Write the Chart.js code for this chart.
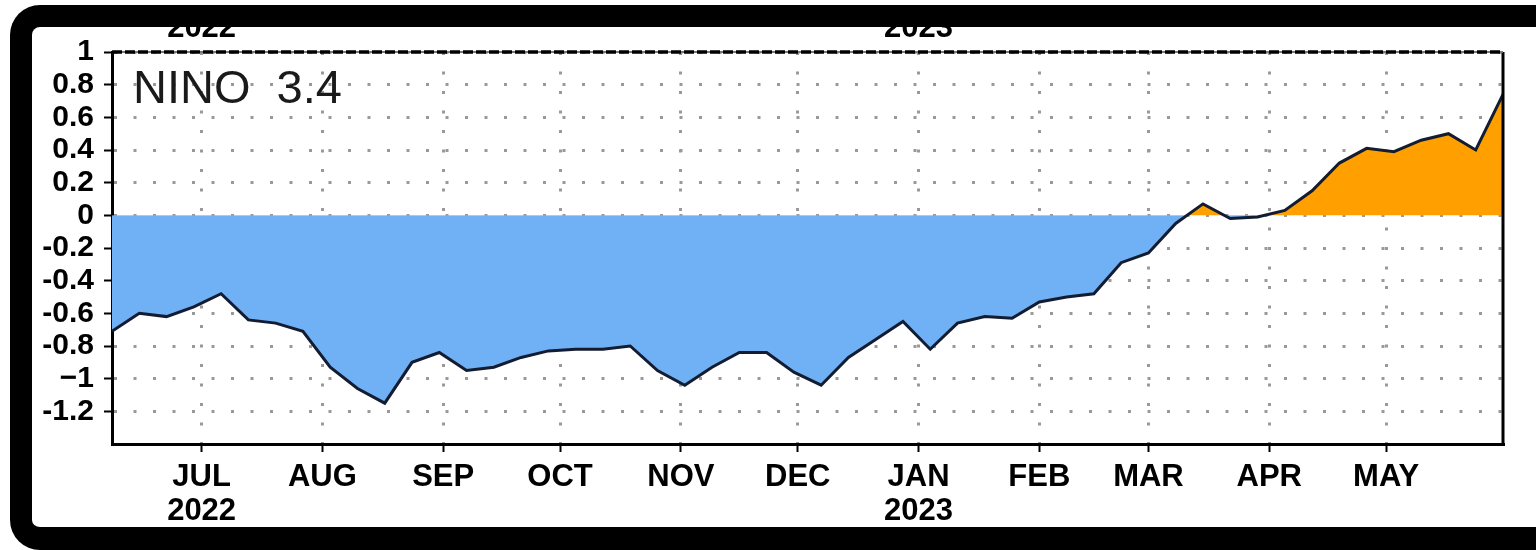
<!DOCTYPE html>
<html>
<head>
<meta charset="utf-8">
<script src="https://cdn.jsdelivr.net/npm/chart.js@4/dist/chart.umd.min.js"></script>
<style>
  html, body { margin: 0; padding: 0; background: #fff; }
  body { width: 1536px; height: 550px; overflow: hidden; position: relative; }
  .frame {
    position: absolute; left: 10px; top: 5px;
    width: 1526px; height: 545px; box-sizing: border-box;
    border-left: 22px solid #000; border-top: 22px solid #000; border-bottom: 23px solid #000;
    border-top-left-radius: 30px; border-bottom-left-radius: 30px;
    overflow: hidden;
  }
  #nino { display: block; }
</style>
</head>
<body>
<div class="frame"><canvas id="nino" width="1504" height="500"></canvas></div>
<script>
// weekly Nino 3.4 SST anomaly (degC)
var weeks = [
  '2022-06-08', '2022-06-15', '2022-06-22', '2022-06-29',
  '2022-07-06', '2022-07-13', '2022-07-20', '2022-07-27',
  '2022-08-03', '2022-08-10', '2022-08-17', '2022-08-24', '2022-08-31',
  '2022-09-07', '2022-09-14', '2022-09-21', '2022-09-28',
  '2022-10-05', '2022-10-12', '2022-10-19', '2022-10-26',
  '2022-11-02', '2022-11-09', '2022-11-16', '2022-11-23', '2022-11-30',
  '2022-12-07', '2022-12-14', '2022-12-21', '2022-12-28',
  '2023-01-04', '2023-01-11', '2023-01-18', '2023-01-25',
  '2023-02-01', '2023-02-08', '2023-02-15', '2023-02-22',
  '2023-03-01', '2023-03-08', '2023-03-15', '2023-03-22', '2023-03-29',
  '2023-04-05', '2023-04-12', '2023-04-19', '2023-04-26',
  '2023-05-03', '2023-05-10', '2023-05-17', '2023-05-24', '2023-05-31'
];
var anomaly = [
  -0.71, -0.60, -0.62, -0.56,
  -0.48, -0.64, -0.66, -0.71,
  -0.93, -1.06, -1.15, -0.90, -0.84,
  -0.95, -0.93, -0.87, -0.83,
  -0.82, -0.82, -0.80, -0.95,
  -1.04, -0.93, -0.84, -0.84, -0.96,
  -1.04, -0.87, -0.76, -0.65,
  -0.82, -0.66, -0.62, -0.63,
  -0.53, -0.50, -0.48, -0.29,
  -0.23, -0.05, 0.07, -0.02, -0.01,
  0.03, 0.15, 0.32, 0.41,
  0.39, 0.46, 0.50, 0.40, 0.74
];
var monthStarts = ['2022-07-01', '2022-08-01', '2022-09-01', '2022-10-01', '2022-11-01', '2022-12-01',
                   '2023-01-01', '2023-02-01', '2023-03-01', '2023-04-01', '2023-05-01'];
var monthLabels = [['JUL', '2022'], 'AUG', 'SEP', 'OCT', 'NOV', 'DEC', ['JAN', '2023'], 'FEB', 'MAR', 'APR', 'MAY'];
var yTicks = [1, 0.8, 0.6, 0.4, 0.2, 0, -0.2, -0.4, -0.6, -0.8, -1, -1.2];
var yLabels = ['1', '0.8', '0.6', '0.4', '0.2', '0', '-0.2', '-0.4', '-0.6', '-0.8', '\u22121', '-1.2'];
var topYears = [['2022', '2022-07-01'], ['2023', '2023-01-01']];

var t0 = Date.parse(weeks[0]);
function day(s) { return (Date.parse(s) - t0) / 864e5; }

var points = weeks.map(function (w, i) { return { x: day(w), y: anomaly[i] }; });
var sans = '"Liberation Sans", Arial, sans-serif';

var decor = {
  id: 'decor',
  afterDraw: function (chart) {
    var c = chart.ctx, a = chart.chartArea, xs = chart.scales.x;
    c.save();
    // right border
    c.strokeStyle = '#000'; c.lineWidth = 3;
    c.beginPath(); c.moveTo(a.right, a.top); c.lineTo(a.right, a.bottom + 1.5); c.stroke();
    // dashed top border
    c.strokeStyle = '#777'; c.lineWidth = 2;
    c.beginPath(); c.moveTo(a.left, a.top); c.lineTo(a.right, a.top); c.stroke();
    c.strokeStyle = '#000'; c.lineWidth = 3.5; c.setLineDash([10, 3]);
    c.beginPath(); c.moveTo(a.left, a.top); c.lineTo(a.right, a.top); c.stroke();
    c.setLineDash([]);
    // title inside plot
    c.fillStyle = '#1a1a1a';
    c.font = '47px ' + sans;
    c.textBaseline = 'alphabetic'; c.textAlign = 'left';
    c.fillText('NINO  3.4', a.left + 21, a.top + 51);
    // years cut off by the top frame
    c.font = 'bold 31px ' + sans; c.textAlign = 'center';
    c.fillStyle = '#000';
    topYears.forEach(function (y) { c.fillText(y[0], xs.getPixelForValue(day(y[1])), 10); });
    c.restore();
  }
};

new Chart(document.getElementById('nino'), {
  type: 'line',
  data: {
    datasets: [{
      data: points,
      borderColor: '#131c30',
      borderWidth: 3,
      pointRadius: 0,
      tension: 0,
      fill: { target: 'origin', above: '#ffa000', below: '#70b0f5' }
    }]
  },
  options: {
    responsive: false,
    animation: false,
    layout: { padding: { top: 20, right: 33, left: 0, bottom: 0 } },
    plugins: { legend: { display: false }, tooltip: { enabled: false } },
    scales: {
      x: {
        type: 'linear', min: 0, max: day(weeks[weeks.length - 1]),
        afterBuildTicks: function (s) { s.ticks = monthStarts.map(function (m) { return { value: day(m) }; }); },
        afterFit: function (s) { s.height = 83; },
        ticks: {
          autoSkip: false, maxRotation: 0, padding: 8, color: '#000',
          font: { family: sans, size: 31, weight: 'bold', lineHeight: 1.1 },
          callback: function (v, i) { return monthLabels[i]; }
        },
        grid: { color: '#999', lineWidth: 3, tickLength: 8, tickColor: '#000', tickWidth: 2, tickBorderDash: [] },
        border: { color: '#000', width: 3, dash: [3, 16.5] }
      },
      y: {
        type: 'linear', min: -1.4, max: 1,
        afterBuildTicks: function (s) { s.ticks = yTicks.map(function (v) { return { value: v }; }); },
        afterFit: function (s) { s.width = 80; },
        ticks: {
          autoSkip: false, padding: 10, color: '#000',
          font: { family: sans, size: 30, weight: 'bold', lineHeight: 1 },
          callback: function (v, i) { return yLabels[i]; }
        },
        grid: { color: '#999', lineWidth: 3, tickLength: 8, tickColor: '#000', tickWidth: 2, tickBorderDash: [] },
        border: { color: '#000', width: 3, dash: [3, 16.5] }
      }
    }
  },
  plugins: [decor]
});
</script>
</body>
</html>
